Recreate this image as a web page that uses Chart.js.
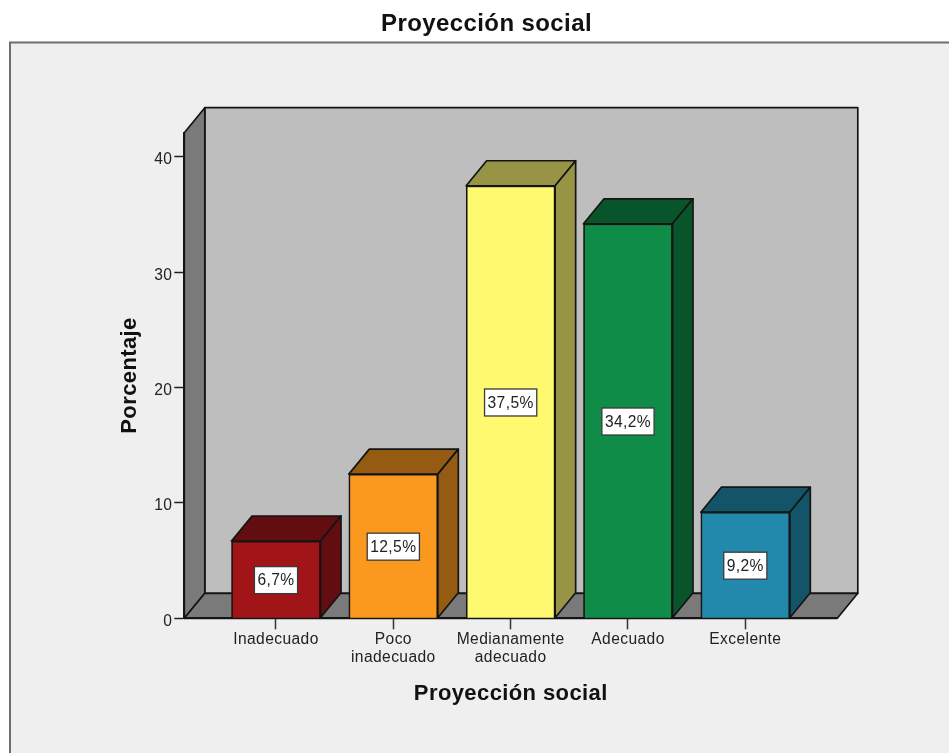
<!DOCTYPE html>
<html>
<head>
<meta charset="utf-8">
<title>Proyección social</title>
<script src="https://cdn.jsdelivr.net/npm/chart.js@4"></script>
<style>
html, body { margin: 0; padding: 0; background: #fff; overflow: hidden; }
canvas { display: block; }
</style>
</head>
<body>
<canvas id="chart1" width="949" height="753"></canvas>
<script>
const categories = [['Inadecuado'], ['Poco', 'inadecuado'], ['Medianamente', 'adecuado'], ['Adecuado'], ['Excelente']];
const percentages = [6.7, 12.5, 37.5, 34.2, 9.2];
const barLabels = ['6,7%', '12,5%', '37,5%', '34,2%', '9,2%'];
const yTicks = [0, 10, 20, 30, 40];
const frontColors = ['#A11519', '#FB991E', '#FFF96F', '#0F8C48', '#2389AC'];
const depthColors = ['#620D10', '#955B12', '#989445', '#08552B', '#145469'];

const sansFont = '"Liberation Sans", Arial, sans-serif';
const lineColor = '#141414';
const depthX = 20.5;
const depthY = 25;

function poly(ctx, pts, fill) {
    ctx.beginPath();
    ctx.moveTo(pts[0][0], pts[0][1]);
    for (let i = 1; i < pts.length; i++) ctx.lineTo(pts[i][0], pts[i][1]);
    ctx.closePath();
    ctx.fillStyle = fill;
    ctx.fill();
    ctx.lineWidth = 1.7;
    ctx.lineJoin = 'round';
    ctx.strokeStyle = lineColor;
    ctx.stroke();
}

// SPSS style box: frame, grey back wall, side wall and floor
const boxPlugin = {
    id: 'box3d',
    afterLayout(chart) {
        // title sits right of the canvas centre in the original
        chart.titleBlock.left = 0;
        chart.titleBlock.right = 973;
    },
    beforeDraw(chart) {
        const ctx = chart.ctx;
        const a = chart.chartArea;
        // the original text is spaced out a bit, applies to all labels
        ctx.letterSpacing = '0.4px';
        ctx.save();
        ctx.fillStyle = '#EFEFEF';
        ctx.fillRect(9, 42, 945, 720);
        ctx.strokeStyle = '#6E6E6E';
        ctx.lineWidth = 2;
        ctx.beginPath();
        ctx.moveTo(10, 760);
        ctx.lineTo(10, 42.5);
        ctx.lineTo(955, 42.5);
        ctx.stroke();
        poly(ctx, [[a.left + depthX, a.top - depthY], [a.right + depthX, a.top - depthY], [a.right + depthX, a.bottom - depthY], [a.left + depthX, a.bottom - depthY]], '#BEBEBE');
        poly(ctx, [[a.left, a.top], [a.left + depthX, a.top - depthY], [a.left + depthX, a.bottom - depthY], [a.left, a.bottom]], '#7A7A7A');
        poly(ctx, [[a.left, a.bottom], [a.left + depthX, a.bottom - depthY], [a.right + depthX, a.bottom - depthY], [a.right, a.bottom]], '#7A7A7A');
        ctx.restore();
    },
    beforeDatasetsDraw(chart) {
        const ctx = chart.ctx;
        ctx.save();
        chart.getDatasetMeta(0).data.forEach((bar, i) => {
            const l = bar.x - bar.width / 2;
            const r = bar.x + bar.width / 2;
            poly(ctx, [[l, bar.y], [l + depthX, bar.y - depthY], [r + depthX, bar.y - depthY], [r, bar.y]], depthColors[i]);
            poly(ctx, [[r, bar.y], [r + depthX, bar.y - depthY], [r + depthX, bar.base - depthY], [r, bar.base]], depthColors[i]);
        });
        ctx.restore();
    },
    afterDatasetsDraw(chart) {
        const ctx = chart.ctx;
        ctx.save();
        ctx.font = '15.6px ' + sansFont;
        ctx.textAlign = 'center';
        ctx.textBaseline = 'middle';
        chart.getDatasetMeta(0).data.forEach((bar, i) => {
            const w = ctx.measureText(barLabels[i]).width + 6;
            const cy = (bar.y + bar.base) / 2 + 0.7;
            ctx.fillStyle = '#fff';
            ctx.fillRect(bar.x - w / 2, cy - 13.5, w, 27);
            ctx.strokeStyle = '#3a3a3a';
            ctx.lineWidth = 1.3;
            ctx.strokeRect(bar.x - w / 2, cy - 13.5, w, 27);
            ctx.fillStyle = '#222';
            ctx.fillText(barLabels[i], bar.x, cy + 1);
        });
        ctx.restore();
    }
};

new Chart(document.getElementById('chart1').getContext('2d'), {
    type: 'bar',
    data: {
        datasets: [{
            data: percentages.map((v, i) => ({ x: i, y: v })),
            backgroundColor: frontColors,
            borderColor: lineColor,
            borderWidth: 1.7,
            barThickness: 89
        }]
    },
    plugins: [boxPlugin],
    options: {
        responsive: false,
        animation: false,
        layout: { padding: { left: 0, right: 111.7, top: 0, bottom: 0 } },
        plugins: {
            legend: { display: false },
            tooltip: { enabled: false },
            title: {
                display: true,
                text: 'Proyección social',
                color: '#111',
                font: { family: sansFont, size: 24, weight: 'bold', lineHeight: 1.2 },
                padding: { top: 10.2, bottom: 93.7 }
            }
        },
        scales: {
            x: {
                type: 'linear',
                offset: false,
                min: -0.7815,
                max: 4.784,
                afterBuildTicks: (scale) => { scale.ticks = categories.map((c, i) => ({ value: i })); },
                afterFit: (scale) => { scale.height = 134.7; },
                grid: { offset: false, drawOnChartArea: false, drawTicks: true, tickLength: 11, tickColor: '#333', tickWidth: 1.5 },
                border: { display: true, color: lineColor, width: 1.7 },
                ticks: {
                    autoSkip: false,
                    maxRotation: 0,
                    padding: 2,
                    color: '#222',
                    font: { family: sansFont, size: 15.6, lineHeight: 1.12 },
                    callback: (v) => categories[v]
                },
                title: {
                    display: true,
                    text: 'Proyección social',
                    color: '#111',
                    font: { family: sansFont, size: 22, weight: 'bold', lineHeight: 1.2 },
                    padding: { top: 0, bottom: 46 }
                }
            },
            y: {
                min: 0,
                max: 42.1,
                afterBuildTicks: (scale) => { scale.ticks = yTicks.map((v) => ({ value: v })); },
                afterFit: (scale) => { scale.width = 184.3; },
                grid: { drawOnChartArea: false, drawTicks: true, tickLength: 10, tickColor: '#222', tickWidth: 1.5 },
                border: { display: true, color: lineColor, width: 1.7 },
                ticks: {
                    padding: 2,
                    labelOffset: 3,
                    color: '#222',
                    font: { family: sansFont, size: 15.6 }
                },
                title: {
                    display: true,
                    text: 'Porcentaje',
                    color: '#111',
                    font: { family: sansFont, size: 22, weight: 'bold', lineHeight: 1.2 },
                    padding: { top: 116.8, bottom: 0 }
                }
            }
        }
    }
});
</script>
</body>
</html>
